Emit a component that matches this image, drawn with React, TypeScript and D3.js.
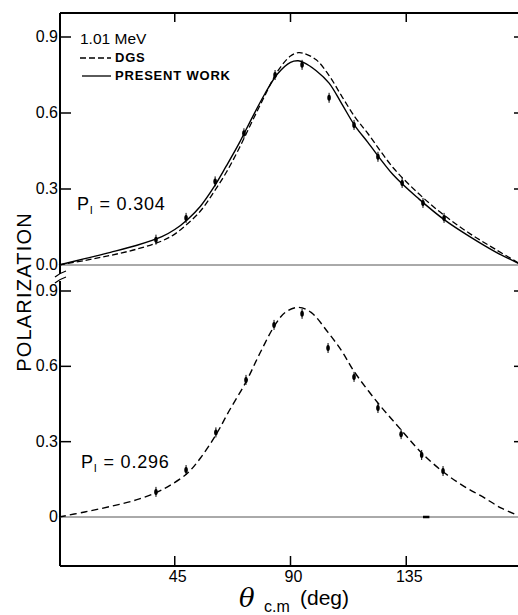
import React from 'react';
import * as d3 from 'd3';

// measured data points (deg, polarization)
const topPointAngles = [37.7, 49.4, 60.7, 71.9, 84, 94.5, 105, 114.7, 124, 133.4, 141.5, 149.7];
const topPointValues = [0.1, 0.186, 0.33, 0.52, 0.75, 0.79, 0.66, 0.553, 0.427, 0.324, 0.245, 0.186];
const botPointAngles = [37.7, 49.4, 61, 72.7, 83.6, 94.5, 104.6, 114.7, 124, 133, 141, 149.3];
const botPointValues = [0.1, 0.187, 0.337, 0.546, 0.765, 0.809, 0.673, 0.558, 0.434, 0.33, 0.247, 0.183];

// calculated curves
const topCurveAngles = [0, 10, 20, 30, 40, 45, 50, 55, 60, 65, 70, 75, 80, 85, 90, 93, 95, 100, 105, 110, 115, 120, 130, 140, 150, 160, 170, 180];
const presentWork = [0, 0.025, 0.05, 0.077, 0.112, 0.14, 0.18, 0.232, 0.304, 0.39, 0.48, 0.58, 0.675, 0.755, 0.8, 0.806, 0.8, 0.767, 0.718, 0.635, 0.55, 0.485, 0.355, 0.26, 0.177, 0.11, 0.05, 0];
const dgsTop = [0, 0.018, 0.038, 0.062, 0.095, 0.122, 0.163, 0.213, 0.285, 0.365, 0.46, 0.565, 0.668, 0.765, 0.825, 0.838, 0.836, 0.81, 0.748, 0.665, 0.585, 0.52, 0.383, 0.28, 0.194, 0.122, 0.06, 0];
const botCurveAngles = [0, 10, 20, 30, 37.7, 43, 49.8, 55, 61, 66, 72.7, 78, 84, 88, 93, 98, 104.6, 110, 114.7, 124, 133, 141, 149.3, 157, 164.8, 172, 180];
const dgsBottom = [0, 0.02, 0.042, 0.068, 0.097, 0.125, 0.173, 0.235, 0.327, 0.42, 0.538, 0.65, 0.765, 0.815, 0.835, 0.815, 0.735, 0.66, 0.58, 0.454, 0.347, 0.255, 0.18, 0.125, 0.08, 0.035, 0];

const xTicks = [45, 90, 135];
const yTicks = [0.3, 0.6, 0.9];
const topTickLabels = ['0.0', '0.3', '0.6', '0.9'];
const botTickLabels = ['0', '0.3', '0.6', '0.9'];

const font = 'Liberation Sans, Arial, sans-serif';

export default function App() {
  const x = d3.scaleLinear().domain([0, 180]).range([59, 522]);
  const yTop = d3.scaleLinear().domain([0, 0.9]).range([265, 37]);
  const yBot = d3.scaleLinear().domain([0, 0.9]).range([517, 291]);
  const left = 60, right = 524, top = 13, bottom = 566;

  const lineFor = (ys: d3.ScaleLinear<number, number>) =>
    d3.line<[number, number]>().x(d => x(d[0])).y(d => ys(d[1])).curve(d3.curveCatmullRom.alpha(0.5));

  const solidPath = lineFor(yTop)(topCurveAngles.map((a, i) => [a, presentWork[i]]));
  const dgsTopPath = lineFor(yTop)(topCurveAngles.map((a, i) => [a, dgsTop[i]]));
  const dgsBotPath = lineFor(yBot)(botCurveAngles.map((a, i) => [a, dgsBottom[i]]));

  const point = (cx: number, cy: number, k: string) => (
    <g key={k}>
      <line x1={cx} x2={cx} y1={cy - 5} y2={cy + 5} stroke="#000" strokeWidth={1} />
      <ellipse cx={cx} cy={cy} rx={1.8} ry={3} fill="#000" />
    </g>
  );

  const yAxisTicks = (ys: d3.ScaleLinear<number, number>, labels: string[], p: string) => (
    <g>
      {[0, ...yTicks].map((v, i) => (
        <text key={p + 'l' + i} x={58} y={ys(v) + 5} textAnchor="end" fontSize={16} fontFamily={font}>{labels[i]}</text>
      ))}
      {yTicks.map(v => (
        <g key={p + v}>
          <line x1={left} x2={left + 11} y1={ys(v)} y2={ys(v)} stroke="#000" strokeWidth={1.5} />
          <line x1={right - 10} x2={right} y1={ys(v)} y2={ys(v)} stroke="#000" strokeWidth={1.5} />
        </g>
      ))}
      <line x1={left} x2={right} y1={ys(0)} y2={ys(0)} stroke="#555" strokeWidth={1} />
    </g>
  );

  return (
    <svg width={518} height={615} style={{ position: 'absolute', left: 0, top: 0, background: '#fff' }}>
      <rect x={0} y={0} width={518} height={615} fill="#fff" />
      {/* frame */}
      <line x1={left} x2={right} y1={top} y2={top} stroke="#000" strokeWidth={2} />
      <line x1={left} x2={right} y1={bottom} y2={bottom} stroke="#000" strokeWidth={2} />
      <line x1={left} x2={left} y1={top} y2={bottom} stroke="#000" strokeWidth={2} />
      {/* axis break */}
      <rect x={left - 3} y={274} width={6} height={7} fill="#fff" />
      <path d="M55,277 Q60,273 66,271" fill="none" stroke="#000" strokeWidth={1.3} />
      <path d="M55,283 Q60,279 66,277" fill="none" stroke="#000" strokeWidth={1.3} />

      {xTicks.map(t => (
        <g key={'x' + t}>
          <line x1={x(t)} x2={x(t)} y1={top} y2={top + 9} stroke="#000" strokeWidth={1.5} />
          <line x1={x(t)} x2={x(t)} y1={bottom} y2={bottom - 10} stroke="#000" strokeWidth={1.5} />
          <text x={x(t) + 3} y={582} textAnchor="middle" fontSize={16} fontFamily={font}>{t}</text>
        </g>
      ))}

      {yAxisTicks(yTop, topTickLabels, 't')}
      {yAxisTicks(yBot, botTickLabels, 'b')}

      {/* curves */}
      <path d={solidPath ?? ''} fill="none" stroke="#000" strokeWidth={1.4} />
      <path d={dgsTopPath ?? ''} fill="none" stroke="#000" strokeWidth={1.3} strokeDasharray="6,3" />
      <path d={dgsBotPath ?? ''} fill="none" stroke="#000" strokeWidth={1.4} strokeDasharray="7,4" />

      {topPointAngles.map((a, i) => point(x(a), yTop(topPointValues[i]), 'tp' + i))}
      {botPointAngles.map((a, i) => point(x(a), yBot(botPointValues[i]), 'bp' + i))}
      <line x1={x(141.5)} x2={x(144)} y1={yBot(0)} y2={yBot(0)} stroke="#000" strokeWidth={2.5} />

      {/* legend */}
      <text x={80} y={44} fontSize={15.5} fontFamily={font}>1.01 MeV</text>
      <line x1={80} x2={111} y1={58} y2={58} stroke="#000" strokeWidth={1.3} strokeDasharray="6,3" />
      <text x={115} y={62} fontSize={13} fontWeight="bold" fontFamily={font} letterSpacing={0.8}>DGS</text>
      <line x1={82} x2={111} y1={76} y2={76} stroke="#000" strokeWidth={1.3} />
      <text x={115} y={80} fontSize={13} fontWeight="bold" fontFamily={font} letterSpacing={0.8}>PRESENT WORK</text>

      <text x={77} y={210} fontSize={18} fontFamily={font} letterSpacing={0.8}>
        P<tspan fontSize={11} dy={4}>I</tspan><tspan dy={-4}> = 0.304</tspan>
      </text>
      <text x={81} y={468} fontSize={18} fontFamily={font} letterSpacing={0.8}>
        P<tspan fontSize={11} dy={4}>I</tspan><tspan dy={-4}> = 0.296</tspan>
      </text>

      {/* axis titles */}
      <text transform="translate(31,292) rotate(-90)" textAnchor="middle" fontSize={20} fontFamily={font} letterSpacing={1.2}>POLARIZATION</text>
      <text x={239} y={607} fontSize={26} fontStyle="italic" fontFamily="DejaVu Serif, serif">θ</text>
      <text x={264} y={612} fontSize={16} fontFamily={font}>c.m</text>
      <text x={300} y={605} fontSize={21} fontFamily={font}>(deg)</text>
    </svg>
  );
}
